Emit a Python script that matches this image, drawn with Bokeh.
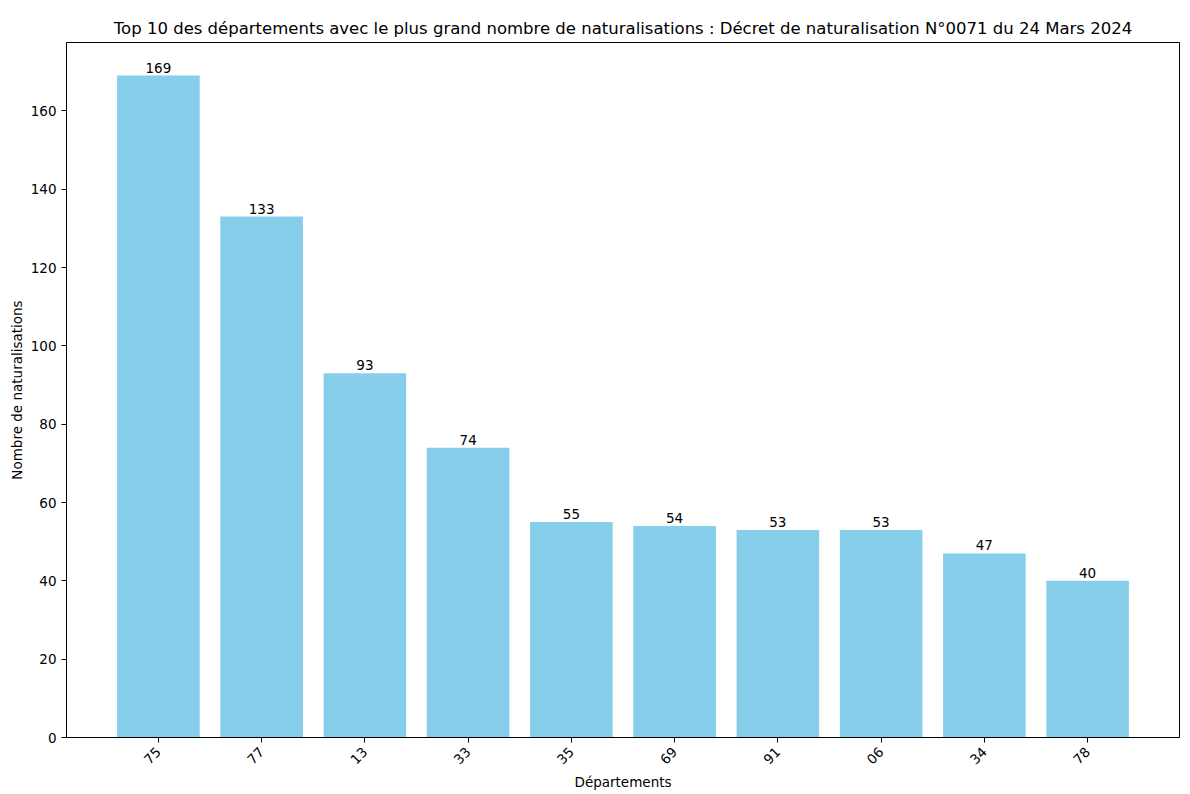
import math
from bokeh.plotting import figure
from bokeh.models import ColumnDataSource, FixedTicker, Range1d
from bokeh.core.properties import value
from bokeh.embed import file_html
from bokeh.resources import INLINE

departements = ["75", "77", "13", "33", "35", "69", "91", "06", "34", "78"]
naturalisations = [169, 133, 93, 74, 55, 54, 53, 53, 47, 40]
y_ticks = [0, 20, 40, 60, 80, 100, 120, 140, 160]

xs = list(range(len(departements)))
src = ColumnDataSource(dict(
    x=xs,
    top=naturalisations,
    label=[str(v) for v in naturalisations],
))

FONT = "DejaVu Sans"

p = figure(width=1190, height=794, output_backend="svg", toolbar_location=None,
           x_range=Range1d(-0.89, len(xs) - 1 + 0.89),
           y_range=Range1d(0, max(naturalisations) * 1.05),
           min_border_left=66, min_border_right=11, min_border_top=42, min_border_bottom=57,
           title="Top 10 des départements avec le plus grand nombre de naturalisations : Décret de naturalisation N°0071 du 24 Mars 2024")

p.vbar(x="x", top="top", width=0.8, bottom=0, source=src, fill_color="#87CEEB", line_color=None)
p.text(x="x", y="top", text="label", source=src, text_align="center", text_baseline="bottom",
       text_font=value(FONT), text_font_size="13.5px", text_color="black", y_offset=-3)

p.title.text_font = FONT
p.title.text_font_size = "16.5px"
p.title.text_font_style = "normal"
p.title.align = "center"
p.title.text_color = "black"

p.xgrid.visible = False
p.ygrid.visible = False
p.outline_line_color = "black"
p.outline_line_alpha = 1
p.outline_line_width = 1

p.xaxis.ticker = FixedTicker(ticks=xs)
p.xaxis.major_label_overrides = {i: d for i, d in enumerate(departements)}
p.xaxis.major_label_orientation = math.pi / 4
p.xaxis.major_label_standoff = 7
p.yaxis.ticker = FixedTicker(ticks=y_ticks)

for ax in (p.xaxis, p.yaxis):
    ax.axis_line_color = "black"
    ax.major_tick_line_color = "black"
    ax.major_tick_out = 5
    ax.major_tick_in = 0
    ax.minor_tick_line_color = None
    ax.major_label_text_font = FONT
    ax.major_label_text_font_size = "13.5px"
    ax.major_label_text_color = "black"
    ax.axis_label_text_font = FONT
    ax.axis_label_text_font_size = "13.5px"
    ax.axis_label_text_font_style = "normal"
    ax.axis_label_text_color = "black"

p.xaxis.axis_label = "Départements"
p.yaxis.axis_label = "Nombre de naturalisations"
p.xaxis.axis_label_standoff = 2
p.yaxis.axis_label_standoff = 3

open("out.html", "w").write(file_html(p, INLINE))
